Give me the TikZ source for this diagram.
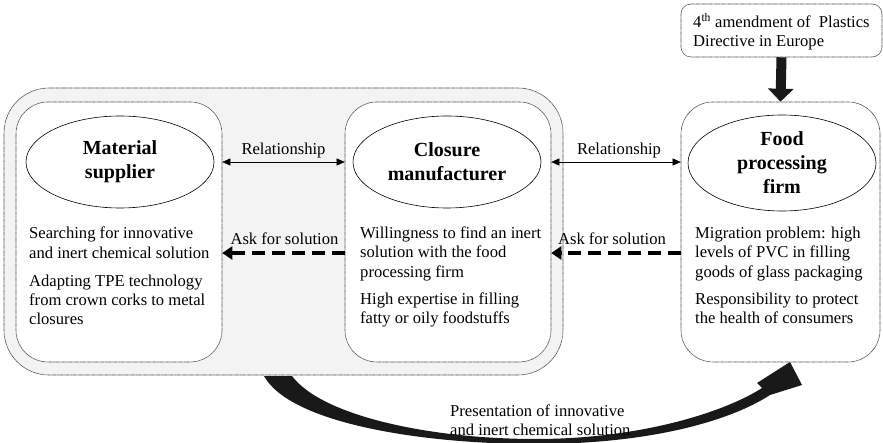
\documentclass[tikz,border=0pt]{standalone}
\usepackage{fontspec}
\setmainfont{Liberation Serif}
\usetikzlibrary{arrows.meta,shapes.geometric}
\definecolor{groupgray}{HTML}{F3F3F3}
\tikzset{
  panel/.style={draw=black!70, line width=0.6pt, dash pattern=on 0.9pt off 0.4pt,
    rounded corners=32pt, fill=white, inner sep=0pt},
  actor/.style={draw=black, line width=0.6pt, ellipse, fill=white, inner sep=0pt,
    align=center, font=\fontsize{20}{24}\selectfont\bfseries},
  body/.style={font=\fontsize{16.6}{19.4}\selectfont, align=left, inner sep=0pt},
  rel/.style={line width=0.5pt, {Triangle[length=8pt,width=7pt]}-{Triangle[length=8pt,width=7pt]}},
  ask/.style={line width=4pt, dash pattern=on 13pt off 7pt, -{Triangle[length=10pt,width=13pt]}},
  lbl/.style={font=\fontsize{16.6}{19.4}\selectfont, inner sep=0pt, anchor=base}
}
\begin{document}
\begin{tikzpicture}[x=1pt,y=-1pt]
\useasboundingbox (0,0) rectangle (883,443);

% curved arrow: presentation of the solution to the food processing firm
\fill[black!90] (264,376) .. controls (290,423) and (420,444) .. (536,444)
  .. controls (650,444) and (730,421) .. (770,395)
  -- (802,385) -- (790,362) -- (757,383) -- (762,388)
  .. controls (725,412) and (640,439) .. (536,439)
  .. controls (430,439) and (322,416) .. (292,376) -- cycle;

% group of material supplier and closure manufacturer
\node[panel, fill=groupgray, rounded corners=45pt, minimum width=559pt, minimum height=287pt] (grp) at (283.5,231.5) {};

% actor panels
\node[panel, minimum width=206pt, minimum height=260pt] (mat) at (119,232) {};
\node[panel, minimum width=206pt, minimum height=260pt] (clo) at (448,232) {};
\node[panel, minimum width=199pt, minimum height=260pt] (food) at (780.5,232) {};
\node[panel, rounded corners=10pt, minimum width=201pt, minimum height=53pt] (dir) at (781.5,30.5) {};

% actor ellipses
\node[actor, minimum width=188pt, minimum height=92pt] (matE) at (120,162) {Material\\supplier};
\node[actor, minimum width=188pt, minimum height=92pt] (cloE) at (447,162) {Closure\\manufacturer};
\node[actor, minimum width=188pt, minimum height=96pt] (foodE) at (782,163) {Food\\processing\\firm};

% panel texts (anchored at the baseline of their last line)
\node[body, anchor=base west] (matT) at (29,325) {Searching for innovative\\
and inert chemical solution\\[8.5pt]
Adapting TPE technology\\
from crown corks to metal\\
closures};
\node[body, anchor=base west] (cloT) at (360,324) {Willingness to find an inert\\
solution with the food\\
processing firm\\[8pt]
High expertise in filling\\
fatty or oily foodstuffs};
\node[body, anchor=base west] (foodT) at (695,324) {Migration problem: high\\
levels of PVC in filling\\
goods of glass packaging\\[8pt]
Responsibility to protect\\
the health of consumers};
\node[body, anchor=base west] (dirT) at (693,47) {4\textsuperscript{th} amendment of~ Plastics\\
Directive in Europe};

% relationships
\coordinate (askrow) at (0,253);
\draw[rel] (mat.east |- matE) -- node[lbl, yshift=7pt] (r1) {Relationship} (clo.west |- matE);
\draw[rel] (clo.east |- cloE) -- node[lbl, yshift=7pt, xshift=3pt] (r2) {Relationship} (food.west |- cloE);
\draw[ask] (clo.west |- askrow) -- node[lbl, yshift=8pt, xshift=1pt] (a1) {Ask for solution} (mat.east |- askrow);
\draw[ask] (food.west |- askrow) -- node[lbl, yshift=8pt, xshift=-4pt] (a2) {Ask for solution} (clo.east |- askrow);

% directive pressure on the food processing firm
\draw[line width=10pt, black!90, -{Triangle[length=13pt,width=25pt]}] (dir.south) -- (food.north);

% label of the curved arrow
\node[body, anchor=base west] (presT) at (450,435.5) {Presentation of innovative\\
and inert chemical solution};
\end{tikzpicture}
\end{document}
